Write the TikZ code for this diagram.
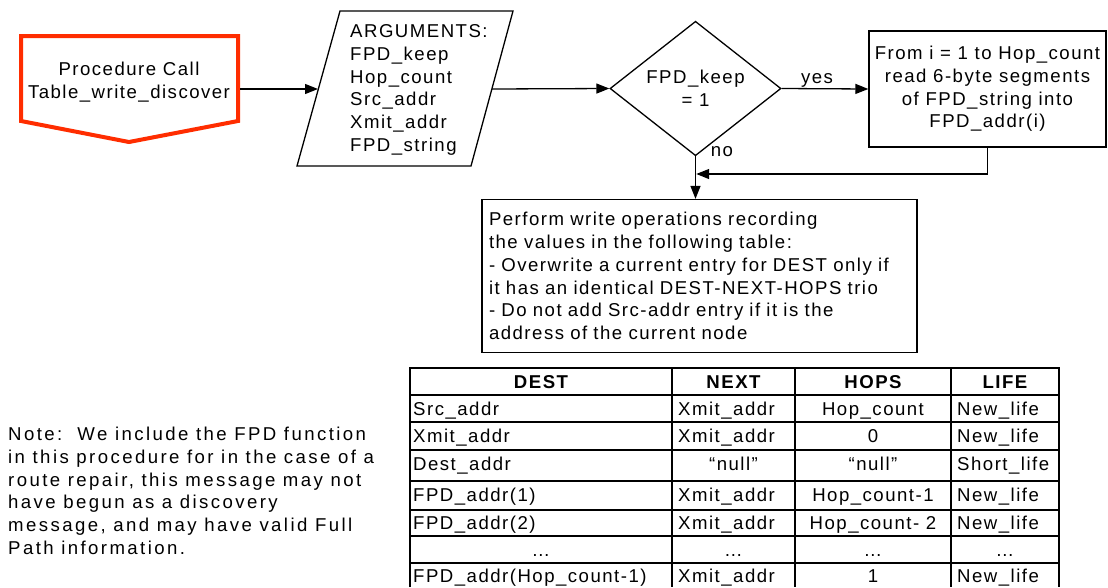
\documentclass[tikz,border=0pt]{standalone}
\usepackage{fontspec}
\setmainfont{Liberation Sans}[LetterSpace=8]
\usetikzlibrary{arrows.meta,shapes.geometric}
\definecolor{procred}{RGB}{255,45,0}
\begin{document}
\begin{tikzpicture}[x=1pt,y=-1pt,
  every node/.style={font=\fontsize{18.6}{22.7}\selectfont},
  ln/.style={line width=1.3pt},
  arr/.style={ln,-{Triangle[length=13pt,width=10pt]}},
  tbl/.style={line width=2pt},
  lc/.style={anchor=base west, inner sep=0},
  cc/.style={anchor=base, inner sep=0},
  hd/.style={anchor=base, inner sep=0, font=\fontsize{18.6}{22.7}\selectfont\bfseries},
  boxed/.style={draw, ln, rectangle, inner sep=0}
]
\useasboundingbox (0,0) rectangle (1108,587);

% procedure call (off-page shape)
\draw[line width=4pt, procred, line join=miter] (21,36) -- (238,36) -- (238,121) -- (129,142) -- (21,121) -- cycle;
\node[align=center, inner sep=0] (proc) at (129,82) {Procedure Call\\Table\_write\_discover};
\coordinate (procR) at (240,89);

% arguments (parallelogram)
\draw[ln] (340,11) -- (513,11) -- (471,166) -- (297,166) -- cycle;
\node[align=left, anchor=west, inner sep=0] (args) at (350,90) {ARGUMENTS:\\FPD\_keep\\Hop\_count\\Src\_addr\\Xmit\_addr\\FPD\_string};
\coordinate (argsL) at (318,89);
\coordinate (argsR) at (492,89);

% decision
\node[diamond, draw, ln, minimum width=171pt, minimum height=115pt, inner sep=0, align=center] (dec) at (695.5,88.5) {FPD\_keep\\= 1};

% loop box
\node[boxed, minimum width=237pt, minimum height=116pt, align=center] (loop) at (987.5,89) {From i = 1 to Hop\_count\\read 6-byte segments\\of FPD\_string into\\FPD\_addr(i)};

% write box
\node[boxed, minimum width=435pt, minimum height=153pt, text width=421pt, inner xsep=7pt, align=left] (write) at (699.5,276) {Perform write operations recording\\the values in the following table:\\- Overwrite a current entry for DEST only if\\it has an identical DEST-NEXT-HOPS trio\\- Do not add Src-addr entry if it is the\\address of the current node};

\coordinate (join) at (695.5,174);

% connectors
\draw[arr] (procR) -- (argsL);
\draw[arr] (argsR) -- (dec.west);
\draw[arr] (dec.east) -- (loop.west);
\draw[arr] (dec.south) -- (dec.south |- write.north);
\draw[arr, shorten >=0.7pt] (loop.south) |- (join);
\node[cc] (yes) at (817,83) {yes};
\node[cc] (no) at (722,156) {no};

% table
\draw[tbl] (410,587) -- (410,368) -- (1059,368) -- (1059,587);
\foreach \yy in {395,422,450,481,510,536,563}
  \draw[tbl] (410,\yy) -- (1059,\yy);
\foreach \xx in {672,795,951}
  \draw[tbl] (\xx,368) -- (\xx,587);

\node[hd] (hdest) at (541,388) {DEST};
\node[hd] (hnext) at (733.5,388) {NEXT};
\node[hd] (hhops) at (873,388) {HOPS};
\node[hd] (hlife) at (1005,388) {LIFE};

\foreach \tp/\a/\b/\c/\d/\i in {395/Src\_addr/Xmit\_addr/Hop\_count/New\_life/1,
    422/Xmit\_addr/Xmit\_addr/0/New\_life/2,
    481/FPD\_addr(1)/Xmit\_addr/Hop\_count-1/New\_life/4,
    509/FPD\_addr(2)/Xmit\_addr/Hop\_count- 2/New\_life/5,
    562/FPD\_addr(Hop\_count-1)/Xmit\_addr/1/New\_life/7}{
  \node[lc] (dest\i) at (413,\tp+20) {\a};
  \node[lc] (next\i) at (678,\tp+20) {\b};
  \node[cc] (hops\i) at (873,\tp+20) {\c};
  \node[lc] (life\i) at (957,\tp+20) {\d};
}
\node[lc] (dest3) at (413,470) {Dest\_addr};
\node[cc] (next3) at (733.5,470) {“null”};
\node[cc] (hops3) at (873,470) {“null”};
\node[lc] (life3) at (957,470) {Short\_life};

\node[cc] (dest6) at (541,556) {…};
\node[cc] (next6) at (733.5,556) {…};
\node[cc] (hops6) at (873,556) {…};
\node[cc] (life6) at (1005,556) {…};

% note
\node[anchor=north west, inner sep=0, align=left, font=\fontsize{18.6}{22.7}\selectfont\addfontfeature{LetterSpace=13}] (note) at (8,427) {Note:\ \ We include the FPD function\\in this procedure for in the case of a\\route repair, this message may not\\have begun as a discovery\\message, and may have valid Full\\Path information.};
\end{tikzpicture}
\end{document}
